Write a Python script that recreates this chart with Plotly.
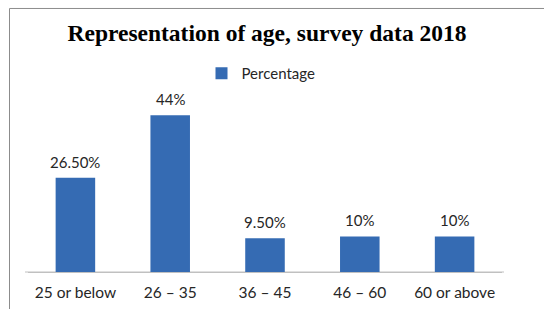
import plotly.graph_objects as go

categories = ["25 or below", "26 – 35", "36 – 45", "46 – 60", "60 or above"]
percentages = [26.5, 44, 9.5, 10, 10]
labels = ["26.50%", "44%", "9.50%", "10%", "10%"]

L, R, T, B = 28, 42, 93.5, 36.5
W, H = 544, 309
pw = W - L - R
ph = H - T - B

def px_x(x):
    return (x - L) / pw

def px_y(y):
    return (H - B - y) / ph

FONT = "Lato, Noto Sans, sans-serif"

fig = go.Figure()
fig.add_trace(go.Bar(
    x=categories, y=percentages, name="Percentage",
    cliponaxis=False,
    marker=dict(color="#356bb3", line=dict(width=0)),
))

for c, v, t in zip(categories, percentages, labels):
    fig.add_annotation(x=c, y=v, text=t, showarrow=False, yanchor="middle", yshift=16,
                       font=dict(family=FONT, size=15, color="#262626"))

fig.update_layout(
    width=W, height=H,
    margin=dict(l=L, r=R, t=T, b=B, autoexpand=False),
    paper_bgcolor="white", plot_bgcolor="white",
    bargap=0.583,
    title=dict(text="<b>Representation of age, survey data 2018</b>",
               x=267 / W, xanchor="center", y=1 - 33 / H, yanchor="middle",
               font=dict(family="Liberation Serif, Times New Roman, serif", size=23.5, color="black")),
    showlegend=True,
    legend=dict(orientation="h", x=px_x(261), xanchor="center", y=px_y(73), yanchor="middle",
                font=dict(family=FONT, size=15, color="#262626"),
                bgcolor="rgba(0,0,0,0)"),
    xaxis=dict(showline=True, linecolor="#c0c0c0", linewidth=1, ticks="", automargin=False,
               ticklabelstandoff=6,
               tickfont=dict(family=FONT, size=15.5, color="#262626"),
               showgrid=False, fixedrange=True),
    yaxis=dict(range=[0, 50], visible=False, showgrid=False, fixedrange=True, automargin=False),
    shapes=[dict(type="rect", xref="paper", yref="paper",
                 x0=px_x(9.5), x1=px_x(560), y0=px_y(330), y1=px_y(7.5),
                 line=dict(color="#8c8c8c", width=1), layer="below"),
            dict(type="line", xref="paper", yref="paper",
                 x0=px_x(25), x1=px_x(504), y0=0, y1=0,
                 line=dict(color="#c0c0c0", width=1), layer="below")],
)

fig.write_html("out.html", config={"displayModeBar": False},
               post_script="document.body.style.margin='0';")
